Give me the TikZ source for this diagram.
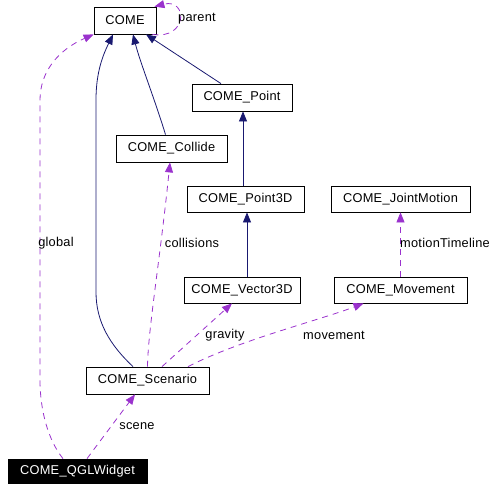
\documentclass[tikz,border=0pt]{standalone}
\usepackage{fontspec}
\setmainfont{Liberation Sans}[LetterSpace=2]
\usetikzlibrary{arrows.meta}
\definecolor{navyedge}{HTML}{191970}
\definecolor{purpedge}{HTML}{9A32CD}
\begin{document}
\begin{tikzpicture}[x=1pt,y=-1pt,
  cls/.style={draw=black,line width=0.8pt,inner sep=0pt,fill=white,font=\fontsize{12.8}{14}\selectfont},
  inh/.style={navyedge,line width=0.8pt,-{Triangle[length=10pt,width=8pt]}},
  use/.style={purpedge,line width=0.8pt,dash pattern=on 6pt off 5pt,-{Triangle[length=10pt,width=8pt]}},
  lbl/.style={font=\fontsize{12.8}{14}\selectfont,inner sep=0pt}]
\useasboundingbox (0,0) rectangle (499,491);
\node[cls,minimum width=62pt,minimum height=27pt] (come) at (125,20.5) {COME};
\node[cls,minimum width=100pt,minimum height=27pt] (point) at (242,97.5) {COME\_Point};
\node[cls,minimum width=111pt,minimum height=27pt] (collide) at (171.5,148.5) {COME\_Collide};
\node[cls,minimum width=117pt,minimum height=26pt] (point3d) at (245.5,199) {COME\_Point3D};
\node[cls,minimum width=139pt,minimum height=26pt] (joint) at (400.5,199) {COME\_JointMotion};
\node[cls,minimum width=116pt,minimum height=26pt] (vector) at (242,290) {COME\_Vector3D};
\node[cls,minimum width=133pt,minimum height=26pt] (movement) at (400.5,290) {COME\_Movement};
\node[cls,minimum width=123pt,minimum height=27pt] (scenario) at (147.5,380.5) {COME\_Scenario};
\node[cls,fill=black,text=white,minimum width=139pt,minimum height=24pt] (qgl) at (77.5,471) {COME\_QGLWidget};
% inheritance
\draw[inh] ([xshift=-21pt]point.north) -- ([xshift=21pt]come.south);
\draw[inh] ([xshift=-6pt]collide.north) .. controls (155,100) and (140,62) .. ([xshift=8pt]come.south);
\draw[inh] ([xshift=-14.5pt]scenario.north) .. controls (110,345) and (96,322) .. (96,292) -- (96,100) .. controls (96,72) and (103,55) .. ([xshift=-12pt]come.south);
\draw[inh] ([xshift=-2.5pt]point3d.north) -- ([xshift=1pt]point.south);
\draw[inh] ([xshift=5pt]vector.south |- vector.north) -- ([xshift=1.5pt]point3d.south);
% usage
\draw[use] ([xshift=-4pt]come.south east) .. controls (188,40) and (188,-2) .. ([xshift=-2pt]come.north east);
\draw[use] ([xshift=-14.5pt]qgl.north) .. controls (48,440) and (40,410) .. (40,380) -- (40,100) .. controls (40,72) and (58,50) .. (come.south west);
\draw[use] ([xshift=0pt]scenario.north) .. controls (148,330) and (160,260) .. ([xshift=-1.5pt]collide.south);
\draw[use] ([xshift=14.5pt]scenario.north) -- ([xshift=-10pt]vector.south);
\draw[use] ([xshift=40.5pt]scenario.north) .. controls (240,340) and (320,320) .. ([xshift=-37pt]movement.south);
\draw[use] (movement.north) -- (joint.south);
\draw[use] ([xshift=9.5pt]qgl.north) -- ([xshift=-12.5pt]scenario.south);
% labels
\node[lbl] (lparent) at (197,19) {parent};
\node[lbl] (lglobal) at (56,243) {global};
\node[lbl] (lcoll) at (192,243) {collisions};
\node[lbl] (lmt) at (445,243) {motionTimeline};
\node[lbl] (lgrav) at (225,335) {gravity};
\node[lbl] (lmov) at (334,335) {movement};
\node[lbl] (lscene) at (137,426) {scene};
\end{tikzpicture}
\end{document}
